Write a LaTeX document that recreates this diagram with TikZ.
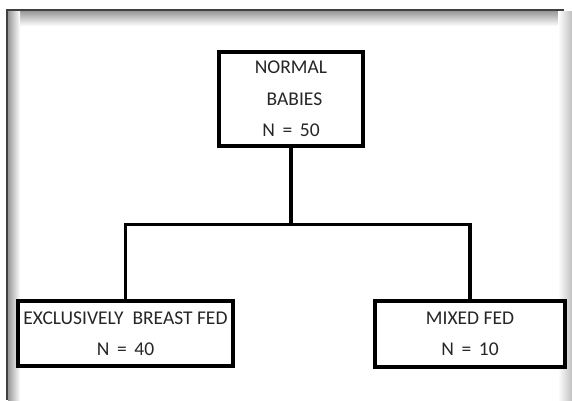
\documentclass[tikz,border=0pt]{standalone}
\usepackage{fontspec}
\setmainfont{Carlito}
\usetikzlibrary{shadows}
\begin{document}
\begin{tikzpicture}[x=1pt,y=-1pt,
  box/.style={draw=black, line width=3.6pt, fill=white, inner sep=0pt, align=center,
    font=\fontsize{19.5}{31.5}\selectfont, text=black!85,
    drop shadow={shadow xshift=1.5pt, shadow yshift=-2pt, fill=black, opacity=0.25}},
  conn/.style={draw=black, line width=3.6pt}]
\useasboundingbox (0,0) rectangle (572,400);
\fill[white] (0,0) rectangle (572,400);
% frame with inner shading
\shade[top color=black!40, bottom color=white] (8,11) rectangle (565,26);
\shade[left color=black!40, right color=white] (8,11) rectangle (20,400);
\shade[left color=white, right color=black!25] (558,11) rectangle (572,400);
\draw[black!75, line width=2pt] (7,400) -- (7,10) -- (564,10);
% boxes
\node[box, minimum width=144pt, minimum height=94pt] (top) at (291,99)
  {NORMAL\\\hspace*{7pt}BABIES\\N\, =\, 50};
\node[box, minimum width=215pt, minimum height=65pt] (left) at (125.5,333.5)
  {EXCLUSIVELY\ \ BREAST FED\\N\, =\, 40};
\node[box, minimum width=190pt, minimum height=66pt] (right) at (470,334)
  {MIXED FED\\N\, =\, 10};
% connectors
\coordinate (j) at (291,224.5);
\draw[conn] (top.south) -- (j);
\draw[conn, line join=miter] (left.north) |- (j) -| (right.north);
\end{tikzpicture}
\end{document}
